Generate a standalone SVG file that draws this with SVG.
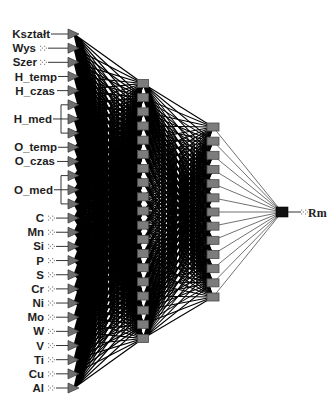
<svg xmlns="http://www.w3.org/2000/svg" width="330" height="397" viewBox="0 0 330 397">
<style>
.lbl{font-family:"Liberation Sans",Arial,sans-serif;font-weight:bold;font-size:11.5px;fill:#1e1e1e;text-anchor:end}
.ln{stroke:#333;stroke-width:1;fill:none}
.tri{fill:#6f6f6f;stroke:#333;stroke-width:0.7}
.hid{fill:#7c7c7c;stroke:#4a4a4a;stroke-width:0.8}
.out{fill:#111;stroke:#000;stroke-width:0.6}
.w{fill:none;stroke:#000;stroke-width:1.2;vector-effect:non-scaling-stroke}
.w2{fill:none;stroke:#000;stroke-width:1.05;vector-effect:non-scaling-stroke}
.w3{fill:none;stroke:#333;stroke-width:0.7}
.dot{fill:#8a8a8a}
.rm{font-family:"Liberation Serif","Times New Roman",serif;font-weight:bold;font-size:12px;fill:#222}
</style>
<defs>
<path id="f1" class="w" d="M0 0L69 -127.53M0 0L69 -113.36M0 0L69 -99.19M0 0L69 -85.02M0 0L69 -70.85M0 0L69 -56.68M0 0L69 -42.51M0 0L69 -28.34M0 0L69 -14.17M0 0L69 0M0 0L69 14.17M0 0L69 28.34M0 0L69 42.51M0 0L69 56.68M0 0L69 70.85M0 0L69 85.02M0 0L69 99.19M0 0L69 113.36M0 0L69 127.53"/>
<path id="f2" class="w2" d="M0 0L70 -85.02M0 0L70 -70.85M0 0L70 -56.68M0 0L70 -42.51M0 0L70 -28.34M0 0L70 -14.17M0 0L70 0M0 0L70 14.17M0 0L70 28.34M0 0L70 42.51M0 0L70 56.68M0 0L70 70.85M0 0L70 85.02"/>
<polygon id="t" class="tri" points="68,-5 79,0 68,5"/>
<g id="dd" class="dot"><rect x="0" y="-2.5" width="1.2" height="1.2"/><rect x="1.8" y="-0.6" width="1.2" height="1.2"/><rect x="0" y="1.4" width="1.2" height="1.2"/><rect x="4" y="-2.5" width="1.2" height="1.2"/><rect x="5.8" y="-0.6" width="1.2" height="1.2"/><rect x="4" y="1.4" width="1.2" height="1.2"/></g>
</defs>

<g id="connectors">
<use href="#f1" transform="matrix(1 2.5652 0 1 74 34)"/>
<use href="#f1" transform="matrix(1 2.3600 0 1 74 48.16)"/>
<use href="#f1" transform="matrix(1 2.1548 0 1 74 62.32)"/>
<use href="#f1" transform="matrix(1 1.9496 0 1 74 76.48)"/>
<use href="#f1" transform="matrix(1 1.7443 0 1 74 90.64)"/>
<use href="#f1" transform="matrix(1 1.5391 0 1 74 104.8)"/>
<use href="#f1" transform="matrix(1 1.3339 0 1 74 118.96)"/>
<use href="#f1" transform="matrix(1 1.1287 0 1 74 133.12)"/>
<use href="#f1" transform="matrix(1 0.9235 0 1 74 147.28)"/>
<use href="#f1" transform="matrix(1 0.7183 0 1 74 161.44)"/>
<use href="#f1" transform="matrix(1 0.5130 0 1 74 175.6)"/>
<use href="#f1" transform="matrix(1 0.3078 0 1 74 189.76)"/>
<use href="#f1" transform="matrix(1 0.1026 0 1 74 203.92)"/>
<use href="#f1" transform="matrix(1 -0.1026 0 1 74 218.08)"/>
<use href="#f1" transform="matrix(1 -0.3078 0 1 74 232.24)"/>
<use href="#f1" transform="matrix(1 -0.5130 0 1 74 246.4)"/>
<use href="#f1" transform="matrix(1 -0.7183 0 1 74 260.56)"/>
<use href="#f1" transform="matrix(1 -0.9235 0 1 74 274.72)"/>
<use href="#f1" transform="matrix(1 -1.1287 0 1 74 288.88)"/>
<use href="#f1" transform="matrix(1 -1.3339 0 1 74 303.04)"/>
<use href="#f1" transform="matrix(1 -1.5391 0 1 74 317.2)"/>
<use href="#f1" transform="matrix(1 -1.7443 0 1 74 331.36)"/>
<use href="#f1" transform="matrix(1 -1.9496 0 1 74 345.52)"/>
<use href="#f1" transform="matrix(1 -2.1548 0 1 74 359.68)"/>
<use href="#f1" transform="matrix(1 -2.3600 0 1 74 373.84)"/>
<use href="#f1" transform="matrix(1 -2.5652 0 1 74 388)"/>

<use href="#f2" transform="matrix(1 1.8361 0 1 143 83.47)"/>
<use href="#f2" transform="matrix(1 1.6337 0 1 143 97.64)"/>
<use href="#f2" transform="matrix(1 1.4313 0 1 143 111.81)"/>
<use href="#f2" transform="matrix(1 1.2289 0 1 143 125.98)"/>
<use href="#f2" transform="matrix(1 1.0264 0 1 143 140.15)"/>
<use href="#f2" transform="matrix(1 0.8240 0 1 143 154.32)"/>
<use href="#f2" transform="matrix(1 0.6216 0 1 143 168.49)"/>
<use href="#f2" transform="matrix(1 0.4191 0 1 143 182.66)"/>
<use href="#f2" transform="matrix(1 0.2167 0 1 143 196.83)"/>
<use href="#f2" transform="matrix(1 0.0143 0 1 143 211)"/>
<use href="#f2" transform="matrix(1 -0.1881 0 1 143 225.17)"/>
<use href="#f2" transform="matrix(1 -0.3906 0 1 143 239.34)"/>
<use href="#f2" transform="matrix(1 -0.5930 0 1 143 253.51)"/>
<use href="#f2" transform="matrix(1 -0.7954 0 1 143 267.68)"/>
<use href="#f2" transform="matrix(1 -0.9979 0 1 143 281.85)"/>
<use href="#f2" transform="matrix(1 -1.2003 0 1 143 296.02)"/>
<use href="#f2" transform="matrix(1 -1.4027 0 1 143 310.19)"/>
<use href="#f2" transform="matrix(1 -1.6051 0 1 143 324.36)"/>
<use href="#f2" transform="matrix(1 -1.8076 0 1 143 338.53)"/>

<path class="w3" d="M213 127L282 212M213 141.15L282 212M213 155.32L282 212M213 169.49L282 212M213 183.66L282 212M213 197.83L282 212M213 212L282 212M213 226.17L282 212M213 240.34L282 212M213 254.51L282 212M213 268.68L282 212M213 282.85L282 212M213 297L282 212"/>
</g>

<g id="inputs">
<g id="in-Ksztalt"><text class="lbl" x="50" y="38">Kształt</text><path class="ln" d="M51 34H68"/><use href="#t" y="34"/></g>
<g id="in-Wys"><text class="lbl" x="36" y="52.2">Wys</text><use href="#dd" x="40" y="48.16"/><path class="ln" d="M48 48.16H68"/><use href="#t" y="48.16"/></g>
<g id="in-Szer"><text class="lbl" x="37" y="66.3">Szer</text><use href="#dd" x="40" y="62.32"/><path class="ln" d="M48 62.32H68"/><use href="#t" y="62.32"/></g>
<g id="in-H_temp"><text class="lbl" x="57" y="80.5">H_temp</text><path class="ln" d="M58 76.48H68"/><use href="#t" y="76.48"/></g>
<g id="in-H_czas"><text class="lbl" x="55" y="94.6">H_czas</text><path class="ln" d="M57 90.64H68"/><use href="#t" y="90.64"/></g>
<g id="in-H_med"><text class="lbl" x="52" y="123">H_med</text><path class="ln" d="M53 118.96H61M68 104.8H61V133.12H68M61 118.96H68"/><use href="#t" y="104.8"/><use href="#t" y="118.96"/><use href="#t" y="133.12"/></g>
<g id="in-O_temp"><text class="lbl" x="57" y="151.3">O_temp</text><path class="ln" d="M58 147.28H68"/><use href="#t" y="147.28"/></g>
<g id="in-O_czas"><text class="lbl" x="55" y="165.4">O_czas</text><path class="ln" d="M57 161.44H68"/><use href="#t" y="161.44"/></g>
<g id="in-O_med"><text class="lbl" x="53" y="193.8">O_med</text><path class="ln" d="M54 189.76H61M68 175.6H61V203.92H68M61 189.76H68"/><use href="#t" y="175.6"/><use href="#t" y="189.76"/><use href="#t" y="203.92"/></g>
<g id="in-C"><text class="lbl" x="44" y="222.1">C</text><use href="#dd" x="48" y="218.08"/><path class="ln" d="M56 218.08H68"/><use href="#t" y="218.08"/></g>
<g id="in-Mn"><text class="lbl" x="44" y="236.2">Mn</text><use href="#dd" x="48" y="232.24"/><path class="ln" d="M56 232.24H68"/><use href="#t" y="232.24"/></g>
<g id="in-Si"><text class="lbl" x="44" y="250.4">Si</text><use href="#dd" x="48" y="246.4"/><path class="ln" d="M56 246.4H68"/><use href="#t" y="246.4"/></g>
<g id="in-P"><text class="lbl" x="44" y="264.6">P</text><use href="#dd" x="48" y="260.56"/><path class="ln" d="M56 260.56H68"/><use href="#t" y="260.56"/></g>
<g id="in-S"><text class="lbl" x="44" y="278.7">S</text><use href="#dd" x="48" y="274.72"/><path class="ln" d="M56 274.72H68"/><use href="#t" y="274.72"/></g>
<g id="in-Cr"><text class="lbl" x="44" y="292.9">Cr</text><use href="#dd" x="48" y="288.88"/><path class="ln" d="M56 288.88H68"/><use href="#t" y="288.88"/></g>
<g id="in-Ni"><text class="lbl" x="44" y="307">Ni</text><use href="#dd" x="48" y="303.04"/><path class="ln" d="M56 303.04H68"/><use href="#t" y="303.04"/></g>
<g id="in-Mo"><text class="lbl" x="44" y="321.2">Mo</text><use href="#dd" x="48" y="317.2"/><path class="ln" d="M56 317.2H68"/><use href="#t" y="317.2"/></g>
<g id="in-W"><text class="lbl" x="44" y="335.4">W</text><use href="#dd" x="48" y="331.36"/><path class="ln" d="M56 331.36H68"/><use href="#t" y="331.36"/></g>
<g id="in-V"><text class="lbl" x="44" y="349.5">V</text><use href="#dd" x="48" y="345.52"/><path class="ln" d="M56 345.52H68"/><use href="#t" y="345.52"/></g>
<g id="in-Ti"><text class="lbl" x="44" y="363.7">Ti</text><use href="#dd" x="48" y="359.68"/><path class="ln" d="M56 359.68H68"/><use href="#t" y="359.68"/></g>
<g id="in-Cu"><text class="lbl" x="44" y="377.8">Cu</text><use href="#dd" x="48" y="373.84"/><path class="ln" d="M56 373.84H68"/><use href="#t" y="373.84"/></g>
<g id="in-Al"><text class="lbl" x="44" y="392">Al</text><use href="#dd" x="48" y="388"/><path class="ln" d="M56 388H68"/><use href="#t" y="388"/></g>
</g>

<g id="hidden1">
<g id="h1-1"><rect class="hid" x="137.5" y="79.47" width="11" height="8"/></g>
<g id="h1-2"><rect class="hid" x="137.5" y="93.64" width="11" height="8"/></g>
<g id="h1-3"><rect class="hid" x="137.5" y="107.81" width="11" height="8"/></g>
<g id="h1-4"><rect class="hid" x="137.5" y="121.98" width="11" height="8"/></g>
<g id="h1-5"><rect class="hid" x="137.5" y="136.15" width="11" height="8"/></g>
<g id="h1-6"><rect class="hid" x="137.5" y="150.32" width="11" height="8"/></g>
<g id="h1-7"><rect class="hid" x="137.5" y="164.49" width="11" height="8"/></g>
<g id="h1-8"><rect class="hid" x="137.5" y="178.66" width="11" height="8"/></g>
<g id="h1-9"><rect class="hid" x="137.5" y="192.83" width="11" height="8"/></g>
<g id="h1-10"><rect class="hid" x="137.5" y="207" width="11" height="8"/></g>
<g id="h1-11"><rect class="hid" x="137.5" y="221.17" width="11" height="8"/></g>
<g id="h1-12"><rect class="hid" x="137.5" y="235.34" width="11" height="8"/></g>
<g id="h1-13"><rect class="hid" x="137.5" y="249.51" width="11" height="8"/></g>
<g id="h1-14"><rect class="hid" x="137.5" y="263.68" width="11" height="8"/></g>
<g id="h1-15"><rect class="hid" x="137.5" y="277.85" width="11" height="8"/></g>
<g id="h1-16"><rect class="hid" x="137.5" y="292.02" width="11" height="8"/></g>
<g id="h1-17"><rect class="hid" x="137.5" y="306.19" width="11" height="8"/></g>
<g id="h1-18"><rect class="hid" x="137.5" y="320.36" width="11" height="8"/></g>
<g id="h1-19"><rect class="hid" x="137.5" y="334.53" width="11" height="8"/></g>
</g>

<g id="hidden2">
<g id="h2-1"><rect class="hid" x="207" y="123" width="12" height="8"/></g>
<g id="h2-2"><rect class="hid" x="207" y="137.15" width="12" height="8"/></g>
<g id="h2-3"><rect class="hid" x="207" y="151.32" width="12" height="8"/></g>
<g id="h2-4"><rect class="hid" x="207" y="165.49" width="12" height="8"/></g>
<g id="h2-5"><rect class="hid" x="207" y="179.66" width="12" height="8"/></g>
<g id="h2-6"><rect class="hid" x="207" y="193.83" width="12" height="8"/></g>
<g id="h2-7"><rect class="hid" x="207" y="208" width="12" height="8"/></g>
<g id="h2-8"><rect class="hid" x="207" y="222.17" width="12" height="8"/></g>
<g id="h2-9"><rect class="hid" x="207" y="236.34" width="12" height="8"/></g>
<g id="h2-10"><rect class="hid" x="207" y="250.51" width="12" height="8"/></g>
<g id="h2-11"><rect class="hid" x="207" y="264.68" width="12" height="8"/></g>
<g id="h2-12"><rect class="hid" x="207" y="278.85" width="12" height="8"/></g>
<g id="h2-13"><rect class="hid" x="207" y="293" width="12" height="8"/></g>
</g>

<g id="out-Rm">
<rect class="out" x="276" y="207" width="12" height="10"/>
<path class="ln" d="M288 212H301"/>
<use href="#dd" x="301" y="212"/>
<text class="rm" x="308" y="216.5">Rm</text>
</g>
</svg>
